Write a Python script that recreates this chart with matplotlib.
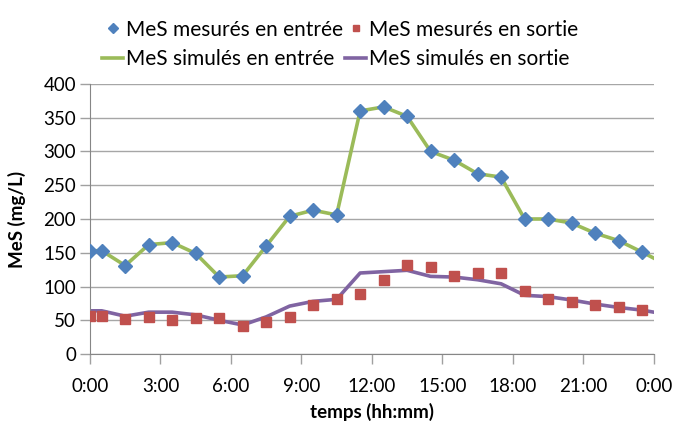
import numpy as np
import matplotlib
matplotlib.use('Agg')
from matplotlib import pyplot as plt

# heures des mesures (h)
t_mes = [0, 0.5, 1.5, 2.5, 3.5, 4.5, 5.5, 6.5, 7.5, 8.5, 9.5, 10.5, 11.5,
         12.5, 13.5, 14.5, 15.5, 16.5, 17.5, 18.5, 19.5, 20.5, 21.5, 22.5, 23.5]
mes_entree = [153, 153, 131, 162, 165, 149, 114, 116, 160, 204, 213, 206, 360,
              366, 352, 300, 287, 267, 262, 200, 200, 194, 179, 168, 151]
mes_sortie = [57, 57, 52, 55, 50, 54, 54, 41, 48, 55, 72, 82, 89,
              110, 132, 129, 115, 120, 120, 94, 82, 77, 72, 70, 65]

# courbes simulées
t_sim = [0, 0.5, 1.5, 2.5, 3.5, 4.5, 5.5, 6.5, 7.5, 8.5, 9.5, 10.5, 11.5,
         12.5, 13.5, 14.5, 15.5, 16.5, 17.5, 18.5, 19.5, 20.5, 21.5, 22.5, 23.5, 24]
sim_entree = [153, 153, 131, 162, 165, 149, 114, 116, 160, 204, 213, 206, 360,
              366, 352, 300, 287, 267, 262, 200, 200, 194, 179, 168, 151, 142]
sim_sortie = [64, 64, 56, 62, 62, 58, 50, 43, 55, 71, 78, 81, 120,
              122, 124, 115, 114, 110, 104, 87, 85, 80, 74, 69, 65, 62]

xticks = [0, 3, 6, 9, 12, 15, 18, 21, 24]
xlabels = ['0:00', '3:00', '6:00', '9:00', '12:00', '15:00', '18:00', '21:00', '0:00']

plt.rcParams['font.family'] = ['Lato', 'DejaVu Sans']

fig = plt.figure(figsize=(6.74, 4.25), dpi=100)
ax = fig.add_axes([0.1335, 0.167, 0.8365, 0.6355])

ax.plot(t_sim, sim_entree, color='#9BBB59', lw=2.6, label='MeS simulés en entrée', zorder=2)
ax.plot(t_sim, sim_sortie, color='#8064A2', lw=2.6, label='MeS simulés en sortie', zorder=2)
ax.plot(t_mes, mes_entree, 'D', color='#4F81BD', ms=7, ls='none',
        label='MeS mesurés en entrée', zorder=3)
ax.plot(t_mes, mes_sortie, 's', color='#C0504D', ms=6.5, ls='none',
        label='MeS mesurés en sortie', zorder=3)

ax.set_xlim(0, 24)
ax.set_ylim(0, 400)
ax.set_xticks(xticks)
ax.set_xticklabels(xlabels)
ax.set_yticks(np.arange(0, 401, 50))
ax.yaxis.grid(True, color='#A6A6A6', lw=1)
ax.set_axisbelow(True)
for s in ['top', 'right']:
    ax.spines[s].set_visible(False)
for s in ['left', 'bottom']:
    ax.spines[s].set_color('#868686')
ax.tick_params(axis='both', labelsize=13.5, color='#A0A0A0', length=7, width=1)
ax.tick_params(axis='y', pad=3)
ax.tick_params(axis='x', pad=10)

ax.set_xlabel('temps (hh:mm)', fontsize=13.5, fontweight='bold')
ax.set_ylabel('MeS (mg/L)', fontsize=13.5, fontweight='bold')
ax.xaxis.set_label_coords(0.5, -0.18)
ax.yaxis.set_label_coords(-0.113, 0.5)

h, l = ax.get_legend_handles_labels()
order = [2, 0, 3, 1]
fig.legend([h[i] for i in order], [l[i] for i in order], ncol=2,
           loc='upper left', bbox_to_anchor=(0.124, 0.998), frameon=False,
           fontsize=15, handlelength=1.0, handletextpad=0.15, columnspacing=0.1,
           labelspacing=0.45, markerscale=0.7)

plt.savefig('out.png', dpi=100)
